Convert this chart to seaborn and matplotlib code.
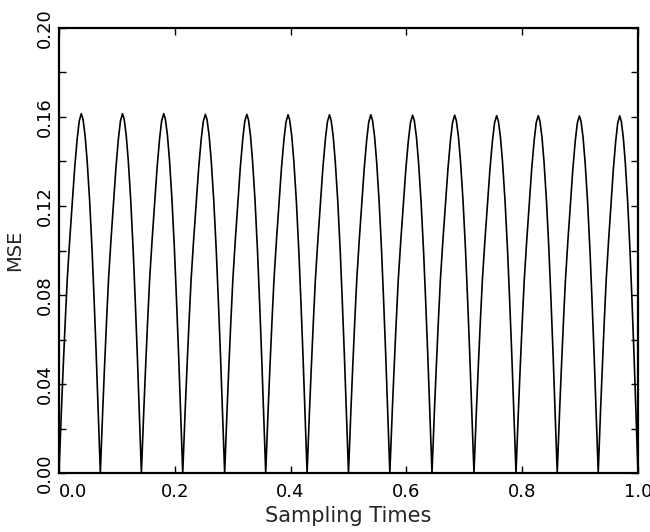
import pandas as pd
import matplotlib
matplotlib.use("Agg")
import matplotlib.pyplot as plt
import seaborn as sns
from matplotlib.ticker import MultipleLocator

# -----------------------------
# Values
# -----------------------------
# zero crossings of the curve (sampling times where MSE drops to 0)
arch_edges = [0.0, 0.0714, 0.1423, 0.2137, 0.2861, 0.3570, 0.4285, 0.5000,
              0.5714, 0.6442, 0.7167, 0.7893, 0.8605, 0.9313, 1.0]
# peak MSE of each arch
arch_peaks = [0.1615, 0.1615, 0.1615, 0.1612, 0.1612, 0.1610, 0.1610,
              0.1610, 0.1608, 0.1608, 0.1606, 0.1606, 0.1605, 0.1605]
# shape of one arch: position inside the arch and height relative to the peak
arch_phase = [0.00, 0.03, 0.06, 0.10, 0.15, 0.20, 0.26, 0.32, 0.38, 0.44,
              0.49, 0.54, 0.58, 0.63, 0.68, 0.74, 0.80, 0.85, 0.90, 0.94,
              0.97, 1.00]
arch_shape = [0.00, 0.09, 0.18, 0.29, 0.42, 0.54, 0.65, 0.75, 0.85, 0.93,
              0.98, 1.00, 0.985, 0.94, 0.87, 0.76, 0.62, 0.48, 0.33, 0.20,
              0.10, 0.00]

x_ticks = [0.0, 0.2, 0.4, 0.6, 0.8, 1.0]
x_tick_labels = ["0.0", "0.2", "0.4", "0.6", "0.8", "1.0"]
y_ticks = [0.00, 0.04, 0.08, 0.12, 0.16, 0.20]
y_tick_labels = ["0.00", "0.04", "0.08", "0.12", "0.16", "0.20"]

# -----------------------------
# Build the curve table, one block of points per arch
# -----------------------------
rows = []
for i, peak in enumerate(arch_peaks):
    start, end = arch_edges[i], arch_edges[i + 1]
    for ph, rel in zip(arch_phase, arch_shape):
        rows.append({"Sampling Times": start + ph * (end - start), "MSE": rel * peak})
df = pd.DataFrame(rows)

# -----------------------------
# Plot
# -----------------------------
sns.set_style("ticks")
plt.rcParams["font.family"] = ["DejaVu Sans"]

fig = plt.figure(figsize=(6.5, 5.32), dpi=100)
ax = fig.add_axes([59 / 650, 1 - 473 / 532, 579 / 650, 445 / 532])

sns.lineplot(data=df, x="Sampling Times", y="MSE", sort=False, estimator=None,
             color="black", linewidth=1.2, ax=ax)

ax.set_xlim(0, 1)
ax.set_ylim(0, 0.2)
ax.set_xticks(x_ticks)
ax.set_xticklabels(x_tick_labels)
ax.set_yticks(y_ticks)
ax.set_yticklabels(y_tick_labels, rotation=90, va="center")
ax.yaxis.set_minor_locator(MultipleLocator(0.02))
ax.get_xticklabels()[0].set_horizontalalignment("left")

ax.tick_params(which="both", direction="in", top=True, right=True,
               length=5, width=1, color="black", labelsize=13, labelcolor="black")
ax.tick_params(axis="x", pad=7)
ax.tick_params(axis="y", pad=4)

for spine in ax.spines.values():
    spine.set_linewidth(1.6)
    spine.set_color("black")

ax.set_xlabel("Sampling Times", fontsize=15, labelpad=4)
ax.set_ylabel("MSE", fontsize=14, labelpad=8)

fig.savefig("out.png", dpi=100)
plt.close()
